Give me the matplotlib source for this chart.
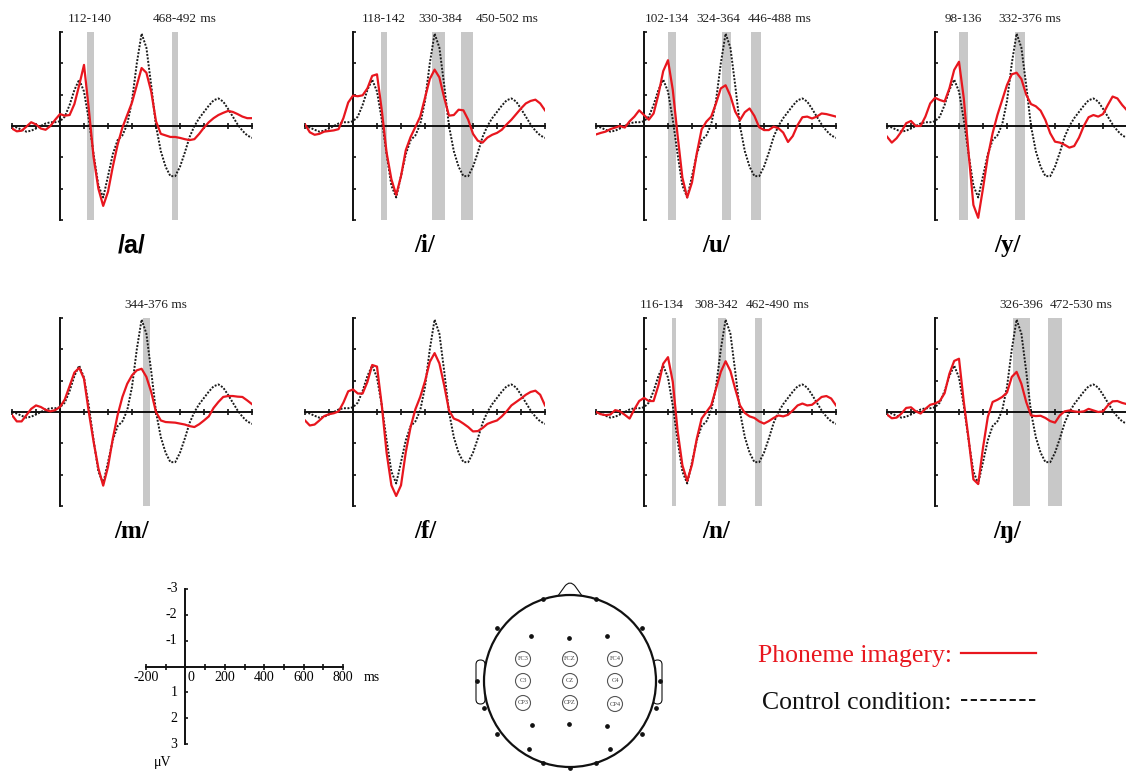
import numpy as np
import matplotlib.pyplot as plt
from matplotlib.lines import Line2D
from matplotlib.patches import Circle, FancyBboxPatch, PathPatch
from matplotlib.path import Path

plt.rcParams['font.family'] = ['Liberation Serif', 'DejaVu Serif']

W, H = 1126, 771

# time axis in ms, one value every 20 ms
t = np.arange(-200, 801, 20)

# control condition (same average in every panel), uV, negative up
control = [0.0, 0.05, 0.12, 0.18, 0.15, 0.08, 0.0, -0.08, -0.12, -0.12,
           -0.15, -0.3, -0.67, -1.15, -1.48, -1.1, -0.2, 0.9, 1.9, 2.28,
           1.6, 0.9, 0.45, 0.3, -0.05, -0.8, -2.0, -2.95, -2.5, -1.3,
           0.0, 0.8, 1.3, 1.6, 1.6, 1.3, 0.85, 0.35, 0.0, -0.25,
           -0.45, -0.65, -0.82, -0.88, -0.78, -0.55, -0.3, -0.05, 0.15, 0.3,
           0.38]

# phoneme imagery, one list per phoneme
red_a = [0.08, 0.17, 0.15, 0.02, -0.12, -0.05, 0.08, 0.12, 0.0, -0.2,
         -0.38, -0.33, -0.35, -0.7, -1.3, -1.95, -0.55, 1.0, 2.0, 2.55,
         2.1, 1.3, 0.6, 0.05, -0.35, -0.75, -1.3, -1.85, -1.7, -1.1,
         -0.15, 0.25, 0.3, 0.35, 0.35, 0.38, 0.42, 0.45, 0.42, 0.25,
         0.05, -0.12, -0.25, -0.35, -0.42, -0.48, -0.45, -0.38, -0.3, -0.25,
         -0.25]
red_i = [-0.05, 0.2, 0.28, 0.25, 0.18, 0.16, 0.14, 0.1, -0.25, -0.75,
         -0.97, -0.95, -0.98, -1.2, -1.6, -1.65, -0.5, 0.85, 1.7, 2.2,
         1.6, 0.77, 0.35, 0.03, -0.3, -0.9, -1.5, -1.8, -1.55, -0.9,
         -0.33, -0.35, -0.52, -0.5, -0.2, 0.25, 0.47, 0.53, 0.37, 0.28,
         0.22, 0.12, -0.05, -0.2, -0.38, -0.56, -0.72, -0.8, -0.84, -0.72,
         -0.5]
red_u = [0.27, 0.22, 0.18, 0.1, 0.05, 0.0, 0.05, -0.15, -0.3, -0.5,
         -0.35, -0.2, -0.4, -1.0, -1.75, -2.1, -1.15, 0.3, 1.65, 2.28,
         1.8, 0.87, 0.11, -0.14, -0.3, -0.72, -1.2, -1.3, -0.96, -0.46,
         -0.19, -0.44, -0.56, -0.32, 0.04, 0.13, 0.13, 0.02, 0.07, 0.21,
         0.51, 0.32, -0.03, -0.28, -0.3, -0.24, -0.3, -0.4, -0.38, -0.34,
         -0.3]
red_y = [0.34, 0.53, 0.39, 0.18, -0.09, -0.16, 0.0, 0.0, -0.3, -0.72,
         -0.9, -0.83, -0.78, -1.2, -1.79, -2.05, -0.88, 0.87, 2.52, 2.93,
         1.99, 0.98, 0.23, -0.35, -0.83, -1.31, -1.65, -1.7, -1.5, -1.0,
         -0.7, -0.63, -0.49, -0.19, 0.23, 0.5, 0.53, 0.6, 0.69, 0.64,
         0.37, 0.0, -0.28, -0.35, -0.3, -0.38, -0.67, -0.94, -0.88, -0.67,
         -0.5]
red_m = [0.1, 0.3, 0.3, 0.1, -0.1, -0.21, -0.16, -0.07, -0.02, -0.06,
         -0.16, -0.4, -0.83, -1.26, -1.41, -1.06, 0.0, 0.95, 1.8, 2.35,
         1.75, 0.85, 0.1, -0.48, -0.9, -1.17, -1.33, -1.38, -1.12, -0.64,
         0.0, 0.27, 0.32, 0.33, 0.34, 0.37, 0.4, 0.45, 0.48, 0.39,
         0.27, 0.14, -0.13, -0.32, -0.48, -0.51, -0.51, -0.49, -0.48, -0.37,
         -0.25]
red_f = [0.27, 0.43, 0.4, 0.27, 0.13, 0.07, 0.04, -0.02, -0.3, -0.66,
         -0.72, -0.59, -0.59, -0.96, -1.5, -1.45, -0.21, 1.3, 2.34, 2.68,
         2.34, 1.28, 0.48, -0.09, -0.48, -0.98, -1.6, -1.88, -1.55, -0.85,
         -0.05, 0.21, 0.27, 0.37, 0.48, 0.62, 0.61, 0.51, 0.38, 0.32,
         0.27, 0.14, -0.02, -0.21, -0.32, -0.43, -0.55, -0.64, -0.68, -0.55,
         -0.21]
red_n = [0.0, 0.07, 0.1, 0.08, -0.06, -0.02, 0.09, 0.21, -0.09, -0.35,
         -0.45, -0.35, -0.35, -0.85, -1.54, -1.75, -0.96, 0.6, 1.7, 2.2,
         1.68, 0.85, 0.21, 0.0, -0.21, -0.74, -1.28, -1.62, -1.31, -0.74,
         -0.21, 0.03, 0.14, 0.19, 0.3, 0.37, 0.29, 0.19, 0.11, 0.14,
         0.09, -0.05, -0.21, -0.27, -0.21, -0.23, -0.35, -0.48, -0.51, -0.43,
         -0.21]
red_ng = [0.08, 0.2, 0.18, 0.05, -0.13, -0.15, -0.02, 0.05, -0.1, -0.23,
          -0.27, -0.35, -0.6, -1.22, -1.63, -1.7, -0.32, 0.85, 2.15, 2.3,
          1.14, 0.16, -0.32, -0.39, -0.48, -0.62, -1.12, -1.28, -0.9, -0.32,
          0.11, 0.13, 0.12, 0.19, 0.29, 0.34, 0.11, -0.02, -0.05, -0.02,
          0.0, -0.02, -0.1, -0.05, 0.0, -0.02, -0.21, -0.34, -0.35, -0.29,
          -0.25]

labels = ['/a/', '/i/', '/u/', '/y/', '/m/', '/f/', '/n/', '/\u014b/']
red_series = [red_a, red_i, red_u, red_y, red_m, red_f, red_n, red_ng]
# significant windows (ms)
bands = [[(112, 140), (468, 492)],
         [(118, 142), (330, 384), (450, 502)],
         [(102, 134), (324, 364), (446, 488)],
         [(98, 136), (332, 376)],
         [(344, 376)],
         [],
         [(116, 134), (308, 342), (462, 490)],
         [(326, 396), (472, 530)]]
# horizontal nudge of each window label (px) so the labels don't collide
band_label_shift = [[0, 0], [0, 2, 30], [-5, -8, 14], [0, 0], [0], [],
                    [-12, -6, 10], [0, 16]]

# scale bar labels
scale_x_labels = ['-200', '0', '200', '400', '600', '800']
scale_x_pos = [-200, 30, 200, 400, 600, 800]
scale_y_labels = ['-3', '-2', '-1', '1', '2', '3']
scale_y_pos = [-3, -2, -1, 1, 2, 3]

# electrode montage (pixel positions)
electrode_names = ['FC3', 'FCZ', 'FC4', 'C3', 'CZ', 'C4', 'CP3', 'CPZ', 'CP4']
electrode_x = [523, 570, 615, 523, 570, 615, 523, 570, 615]
electrode_y = [659, 659, 659, 681, 681, 681, 703, 703, 704]
dot_x = [531, 569, 607, 532, 569, 607, 529, 610, 497, 642, 497, 642, 477, 660,
         484, 656, 543, 596, 543, 596, 570]
dot_y = [636, 638, 636, 725, 724, 726, 749, 749, 628, 628, 734, 734, 681, 681,
         708, 708, 599, 599, 763, 763, 768]

RED = '#e8161e'
INK = '#111111'


def px_box(x0, y0, w, h):
    return [x0 / W, 1 - (y0 + h) / H, w / W, h / H]


def style_axes(ax):
    for s in ['top', 'right']:
        ax.spines[s].set_visible(False)
    for s in ['left', 'bottom']:
        ax.spines[s].set_position(('data', 0))
        ax.spines[s].set_linewidth(1.4)
        ax.spines[s].set_color(INK)
    ax.set_xticks(np.arange(-200, 801, 100))
    ax.set_yticks(np.arange(-3, 4))
    ax.tick_params(axis='x', direction='inout', length=5, width=1.2,
                   color=INK, labelbottom=False)
    ax.tick_params(axis='y', direction='in', length=2.5, width=1.2,
                   color=INK, labelleft=False)
    ax.patch.set_visible(False)


fig = plt.figure(figsize=(W / 100, H / 100), dpi=100)

panel_x = [12, 305, 596, 887]
panel_top = [32, 318]

for k in range(8):
    row, col = divmod(k, 4)
    ax = fig.add_axes(px_box(panel_x[col], panel_top[row], 240, 188))
    ax.set_xlim(-200, 800)
    ax.set_ylim(3, -3)
    for j, (b0, b1) in enumerate(bands[k]):
        ax.axvspan(b0, b1, color='#c8c8c8', lw=0, zorder=0)
        txt = ax.annotate(f'{b0}-{b1}', xy=((b0 + b1) / 2, -3),
                          xytext=(band_label_shift[k][j] * 0.72, 5),
                          textcoords='offset points', ha='center', va='bottom',
                          fontsize=9.5, color='#222222')
        if j == len(bands[k]) - 1:
            ax.annotate(' ms', xy=(1, 0), xycoords=txt, ha='left', va='bottom',
                        fontsize=9.5, color='#222222')
    ax.plot(t, control, color='#1a1a1a', lw=1.4, ls=(0, (1, 0.8)), zorder=2)
    ax.plot(t, red_series[k], color=RED, lw=1.6, zorder=3)
    style_axes(ax)
    fam = ['Liberation Sans', 'DejaVu Sans'] if k == 0 else ['Liberation Serif', 'DejaVu Serif']
    ax.text(0.5, -0.135, labels[k], transform=ax.transAxes, ha='center',
            va='center', fontsize=18, fontweight='bold', family=fam)

# scale axes
sx = fig.add_axes(px_box(146, 589, 197, 155))
sx.set_xlim(-200, 800)
sx.set_ylim(3, -3)
style_axes(sx)
for lab, xv in zip(scale_x_labels, scale_x_pos):
    sx.text(xv, 0.42, lab, ha='center', va='center', fontsize=10)
sx.text(945, 0.42, 'ms', ha='center', va='center', fontsize=10)
for lab, yv in zip(scale_y_labels, scale_y_pos):
    sx.text(-40, yv, lab, ha='right', va='center', fontsize=10)
sx.text(-115, 3.72, '\u03bcV', ha='center', va='center', fontsize=10)

# head montage
hx = fig.add_axes(px_box(466, 572, 206, 199))
hx.set_xlim(466, 672)
hx.set_ylim(771, 572)
hx.axis('off')
for ex in [476, 653]:
    hx.add_patch(FancyBboxPatch((ex, 660), 9, 44, boxstyle='round,pad=0,rounding_size=4.5',
                                fc='white', ec=INK, lw=0.8, zorder=1))
nose = Path([(555, 600), (565, 586), (570, 580), (575, 586), (585, 600)],
            [Path.MOVETO, Path.LINETO, Path.CURVE3, Path.CURVE3, Path.LINETO])
hx.add_patch(PathPatch(nose, fc='white', ec=INK, lw=0.8, zorder=1))
hx.add_patch(Circle((570, 681), 86, fc='white', ec=INK, lw=1.6, zorder=2))
for nm, ex, ey in zip(electrode_names, electrode_x, electrode_y):
    hx.add_patch(Circle((ex, ey), 7.5, fc='white', ec='#555555', lw=0.8, zorder=3))
    hx.text(ex, ey, nm, ha='center', va='center', fontsize=4.6, color='#444444', zorder=4)
hx.plot(dot_x, dot_y, 'o', color=INK, ms=2.4, zorder=4, clip_on=False)

# legend
handles = [Line2D([], [], color=RED, lw=1.6),
           Line2D([], [], color=INK, lw=1.4, ls=(0, (3.2, 1.8)))]
fig.legend(handles=handles, labels=['Phoneme imagery:', 'Control condition:'],
           markerfirst=False, frameon=False, loc='center left',
           bbox_to_anchor=(758 / W, 1 - 679 / H), fontsize=18.5,
           labelcolor=[RED, INK], handlelength=2.9, handletextpad=0.35,
           labelspacing=0.9, borderpad=0, borderaxespad=0)

fig.savefig('out.png', dpi=100)
